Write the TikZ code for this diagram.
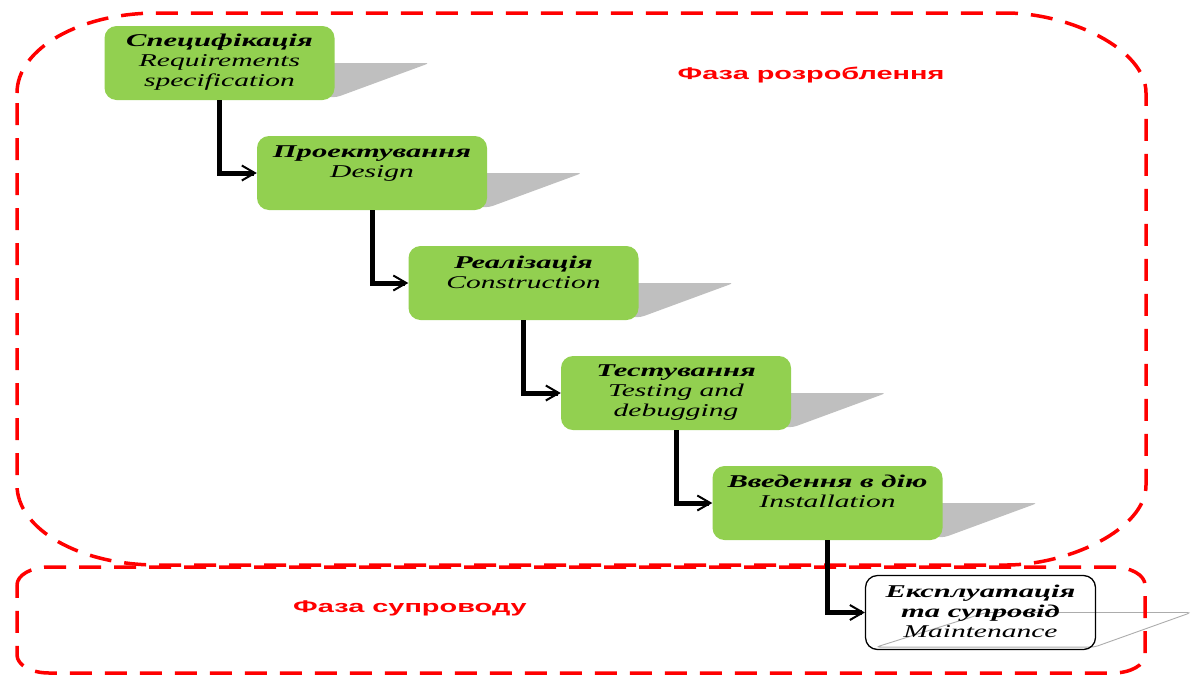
\documentclass[tikz,border=0pt]{standalone}
\usepackage{fontspec}
\usepackage{graphicx}
\setmainfont{Liberation Serif}
\newfontfamily\phasefont{Liberation Sans}
\usetikzlibrary{arrows.meta,calc,backgrounds}
\definecolor{boxgreen}{HTML}{92D050}
\definecolor{shadowgray}{HTML}{BFBFBF}
\definecolor{phasered}{HTML}{FF0000}
\newcommand{\stretchx}[2][1.64]{\scalebox{#1}[1]{#2}}
\newcommand{\titlex}[1]{\scalebox{1.7}[1]{\bfseries #1}}
\tikzset{
  stagebox/.style={rounded corners=12pt, minimum width=230pt, minimum height=74pt, inner sep=0pt},
  greenbox/.style={stagebox, fill=boxgreen},
  whitebox/.style={stagebox, draw=black, line width=1.3pt},
  stagetext/.style={align=center, inner sep=0pt, anchor=base, font=\fontsize{18}{20}\selectfont\itshape},
  flow/.style={line width=5pt, -{Straight Barb[length=13pt,width=15pt,line width=2pt]}},
  region/.style={draw=phasered, line width=3.5pt, dash pattern=on 22pt off 13pt},
  phaselabel/.style={text=phasered, anchor=base, inner sep=0pt, font=\fontsize{17}{20}\phasefont\bfseries},
  shadowfill/.style={fill=shadowgray, rounded corners=4pt},
  shadowline/.style={draw=shadowgray!90!black, line width=0.9pt, rounded corners=4pt}
}
\begin{document}
\begin{tikzpicture}[x=1pt,y=-1pt]
\useasboundingbox (0,0) rectangle (1198,675);

% phase regions
\draw[region] (17,93) .. controls (17,48.8) and (79.7,13) .. (157,13)
  -- (1006,13) .. controls (1068.7,13) and (1146,48.8) .. (1146,93)
  -- (1146,485) .. controls (1146,529.2) and (1068.7,565) .. (1006,565)
  -- (157,565) .. controls (79.7,565) and (17,529.2) .. (17,485) -- cycle;
\draw[region] (17,585) .. controls (17,575.1) and (31.3,567) .. (49,567)
  -- (1113,567) .. controls (1130.7,567) and (1145,575.1) .. (1145,585)
  -- (1145,655) .. controls (1145,664.9) and (1130.7,673) .. (1113,673)
  -- (49,673) .. controls (31.3,673) and (17,664.9) .. (17,655) -- cycle;

\node[phaselabel] (p1) at (811,79) {\stretchx[1.7]{Фаза розроблення}};
\node[phaselabel] (p2) at (410,612) {\stretchx[1.7]{Фаза супроводу}};

% stage boxes
\node[greenbox] (b1) at (219.5,63) {};
\node[greenbox] (b2) at (372,173) {};
\node[greenbox] (b3) at (523.5,283) {};
\node[greenbox] (b4) at (676,393) {};
\node[greenbox] (b5) at (827.5,503) {};
\node[whitebox] (b6) at (980.5,612.5) {};

% shadows
\begin{scope}[on background layer]
\foreach \b in {b1,b2,b3,b4,b5}{
  \fill[shadowfill] ($(\b.south west)+(11,-3)$) -- ($(\b.west)+(121,0)$)
    -- ($(\b.east)+(95,0)$) -- ($(\b.south east)+(2,-3)$) -- cycle;
}
\draw[shadowline] ($(b6.south west)+(11,-3)$) -- ($(b6.west)+(121,0)$)
    -- ($(b6.east)+(95,0)$) -- ($(b6.south east)+(-2,-3)$) -- cycle;
\end{scope}

% texts (anchor base = baseline of the last line)
\node[stagetext] (t1) at (219.5,86) {\titlex{Специфікація}\\ \stretchx{Requirements}\\ \stretchx{specification}};
\node[stagetext] (t2) at (372,177) {\titlex{Проектування}\\ \stretchx{Design}};
\node[stagetext] (t3) at (523.5,288) {\titlex{Реалізація}\\ \stretchx{Construction}};
\node[stagetext] (t4) at (676,416) {\titlex{Тестування}\\ \stretchx{Testing and}\\ \stretchx{debugging}};
\node[stagetext] (t5) at (827.5,507) {\titlex{Введення в дію}\\ \stretchx{Installation}};
\node[stagetext] (t6) at (980.5,637) {\titlex{Експлуатація}\\ \titlex{та супровід}\\ \stretchx{Maintenance}};

% flow arrows
\draw[flow] (b1.south) |- (b2.west);
\draw[flow] (b2.south) |- (b3.west);
\draw[flow] (b3.south) |- (b4.west);
\draw[flow] (b4.south) |- (b5.west);
\draw[flow] (b5.south) |- (b6.west);
\end{tikzpicture}
\end{document}
